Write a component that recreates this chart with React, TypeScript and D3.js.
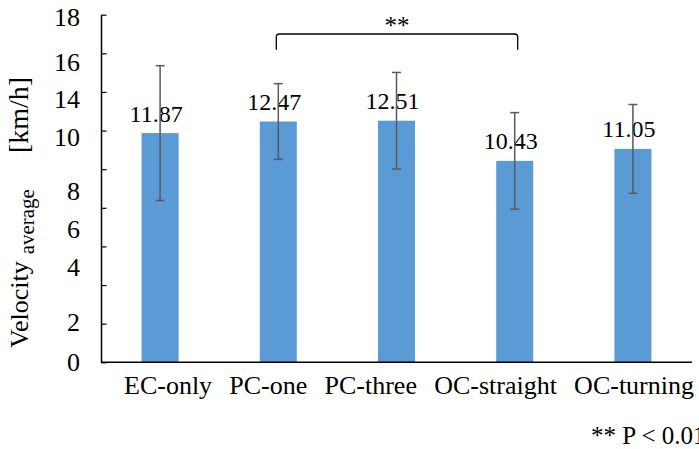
import React, { useEffect, useRef } from "react";
import * as d3 from "d3";

// chart values
const categories = ["EC-only", "PC-one", "PC-three", "OC-straight", "OC-turning"];
const means = [11.87, 12.47, 12.51, 10.43, 11.05];
const sds = [3.49, 1.96, 2.5, 2.5, 2.3];

// y axis: ticks every 2, labels as printed in the source figure
const yTicks = [0, 2, 4, 6, 8, 10, 12, 14, 16, 18];
const yLabelText = ["0", "2", "4", "6", "8", "10", "14", "16", "18"];
const yLabelAt = [0, 2.06, 4.91, 6.9, 8.83, 11.64, 13.63, 15.53, 17.86];

// significance bracket
const sigPair = ["PC-one", "OC-straight"];
const sigLevel = 17;
const sigDrop = 0.82;
const sigMark = "**";
const footnote = "** P < 0.01";

const W = 699;
const H = 449;
const FONT = "'Liberation Serif', 'Times New Roman', serif";

const App = () => {
  const ref = useRef<SVGSVGElement>(null);

  useEffect(() => {
    const margin = { top: 14.7, right: 7, bottom: 86.7, left: 101 };
    const svg = d3.select(ref.current);
    svg.selectAll("*").remove();

    const x = d3.scaleBand()
      .domain(categories)
      .range([margin.left, W - margin.right])
      .paddingInner(0.687)
      .paddingOuter(0.3435);

    const y = d3.scaleLinear()
      .domain([0, 18])
      .range([H - margin.bottom, margin.top]);

    const cx = (d: string) => (x(d) as number) + x.bandwidth() / 2;

    // bars
    svg.append("g")
      .attr("fill", "#5B9BD5")
      .selectAll("rect")
      .data(categories)
      .join("rect")
      .attr("x", d => x(d) as number)
      .attr("y", (d, i) => y(means[i]))
      .attr("width", x.bandwidth())
      .attr("height", (d, i) => y(0) - y(means[i]));

    // value labels
    svg.append("g")
      .attr("font-family", FONT)
      .attr("font-size", 24)
      .attr("text-anchor", "middle")
      .attr("fill", "#000")
      .selectAll("text")
      .data(categories)
      .join("text")
      .attr("x", d => cx(d) - 4)
      .attr("y", (d, i) => y(means[i]) - 11.5)
      .text((d, i) => means[i].toFixed(2));

    // error bars
    const eb = svg.append("g")
      .attr("stroke", "#595959")
      .attr("stroke-width", 1.5)
      .attr("fill", "none");
    categories.forEach((d, i) => {
      const top = y(means[i] + sds[i]);
      const bot = y(means[i] - sds[i]);
      const c = cx(d);
      eb.append("line").attr("x1", c).attr("x2", c).attr("y1", top).attr("y2", bot);
      eb.append("line").attr("x1", c - 4.5).attr("x2", c + 4.5).attr("y1", top).attr("y2", top);
      eb.append("line").attr("x1", c - 4.5).attr("x2", c + 4.5).attr("y1", bot).attr("y2", bot);
    });

    // y axis, ticks pointing inward
    const yAxis = svg.append("g")
      .attr("transform", `translate(${margin.left},0)`)
      .call(d3.axisRight(y).tickValues(yTicks).tickSize(5.5).tickSizeOuter(0).tickFormat(() => ""));
    yAxis.select(".domain").attr("stroke", "#000").attr("stroke-width", 1.5);
    yAxis.selectAll(".tick line").attr("stroke", "#000").attr("stroke-width", 1.2);

    svg.append("g")
      .attr("font-family", FONT)
      .attr("font-size", 26)
      .attr("text-anchor", "end")
      .selectAll("text")
      .data(yLabelText)
      .join("text")
      .attr("x", margin.left - 21)
      .attr("y", (d, i) => y(yLabelAt[i]))
      .attr("dy", "0.33em")
      .text(d => d);

    // x axis
    svg.append("line")
      .attr("x1", margin.left)
      .attr("x2", W - margin.right)
      .attr("y1", y(0))
      .attr("y2", y(0))
      .attr("stroke", "#000")
      .attr("stroke-width", 1.5);

    // category labels flow as one line with even gaps (as in the source)
    const xl = svg.append("g")
      .attr("font-family", FONT)
      .attr("font-size", 26)
      .selectAll("text")
      .data(categories)
      .join("text")
      .attr("y", y(0) + 32)
      .text(d => d);
    const widths = (xl.nodes() as SVGTextElement[]).map(n => n.getComputedTextLength());
    const lineStart = margin.left + 23;
    const lineEnd = W - 5;
    const gap = (lineEnd - lineStart - d3.sum(widths)) / (categories.length - 1);
    let pos = lineStart;
    xl.attr("x", (d, i) => {
      const p = pos;
      pos += widths[i] + gap;
      return p;
    });

    // y title with subscript
    const title = svg.append("text")
      .attr("font-family", FONT)
      .attr("font-size", 26)
      .attr("text-anchor", "start")
      .attr("transform", `translate(28,348) rotate(-90)`);
    title.append("tspan").text("Velocity");
    title.append("tspan").attr("font-size", 21).attr("dx", 7).attr("dy", 6).text("average");
    title.append("tspan").attr("font-size", 28).attr("dx", 36).attr("dy", -6).text("[km/h]");

    // significance bracket
    const bx1 = cx(sigPair[0]) - 2;
    const bx2 = cx(sigPair[1]) + 3;
    const by = y(sigLevel);
    const byEnd = y(sigLevel - sigDrop);
    const r = 3;
    svg.append("path")
      .attr("d", `M${bx1},${byEnd} L${bx1},${by + r} Q${bx1},${by} ${bx1 + r},${by} L${bx2 - r},${by} Q${bx2},${by} ${bx2},${by + r} L${bx2},${byEnd}`)
      .attr("fill", "none")
      .attr("stroke", "#000")
      .attr("stroke-width", 1.3);
    svg.append("text")
      .attr("font-family", FONT)
      .attr("font-size", 25)
      .attr("text-anchor", "middle")
      .attr("x", (bx1 + bx2) / 2)
      .attr("y", by - 0.5)
      .text(sigMark);

    // footnote (runs off the right edge in the source)
    svg.append("text")
      .attr("font-family", FONT)
      .attr("font-size", 25)
      .attr("x", 591)
      .attr("y", 444)
      .text(footnote);
  }, []);

  return (
    <svg
      ref={ref}
      width={W}
      height={H}
      style={{ position: "absolute", left: 0, top: 0, background: "#fff" }}
    ></svg>
  );
};

export default App;
